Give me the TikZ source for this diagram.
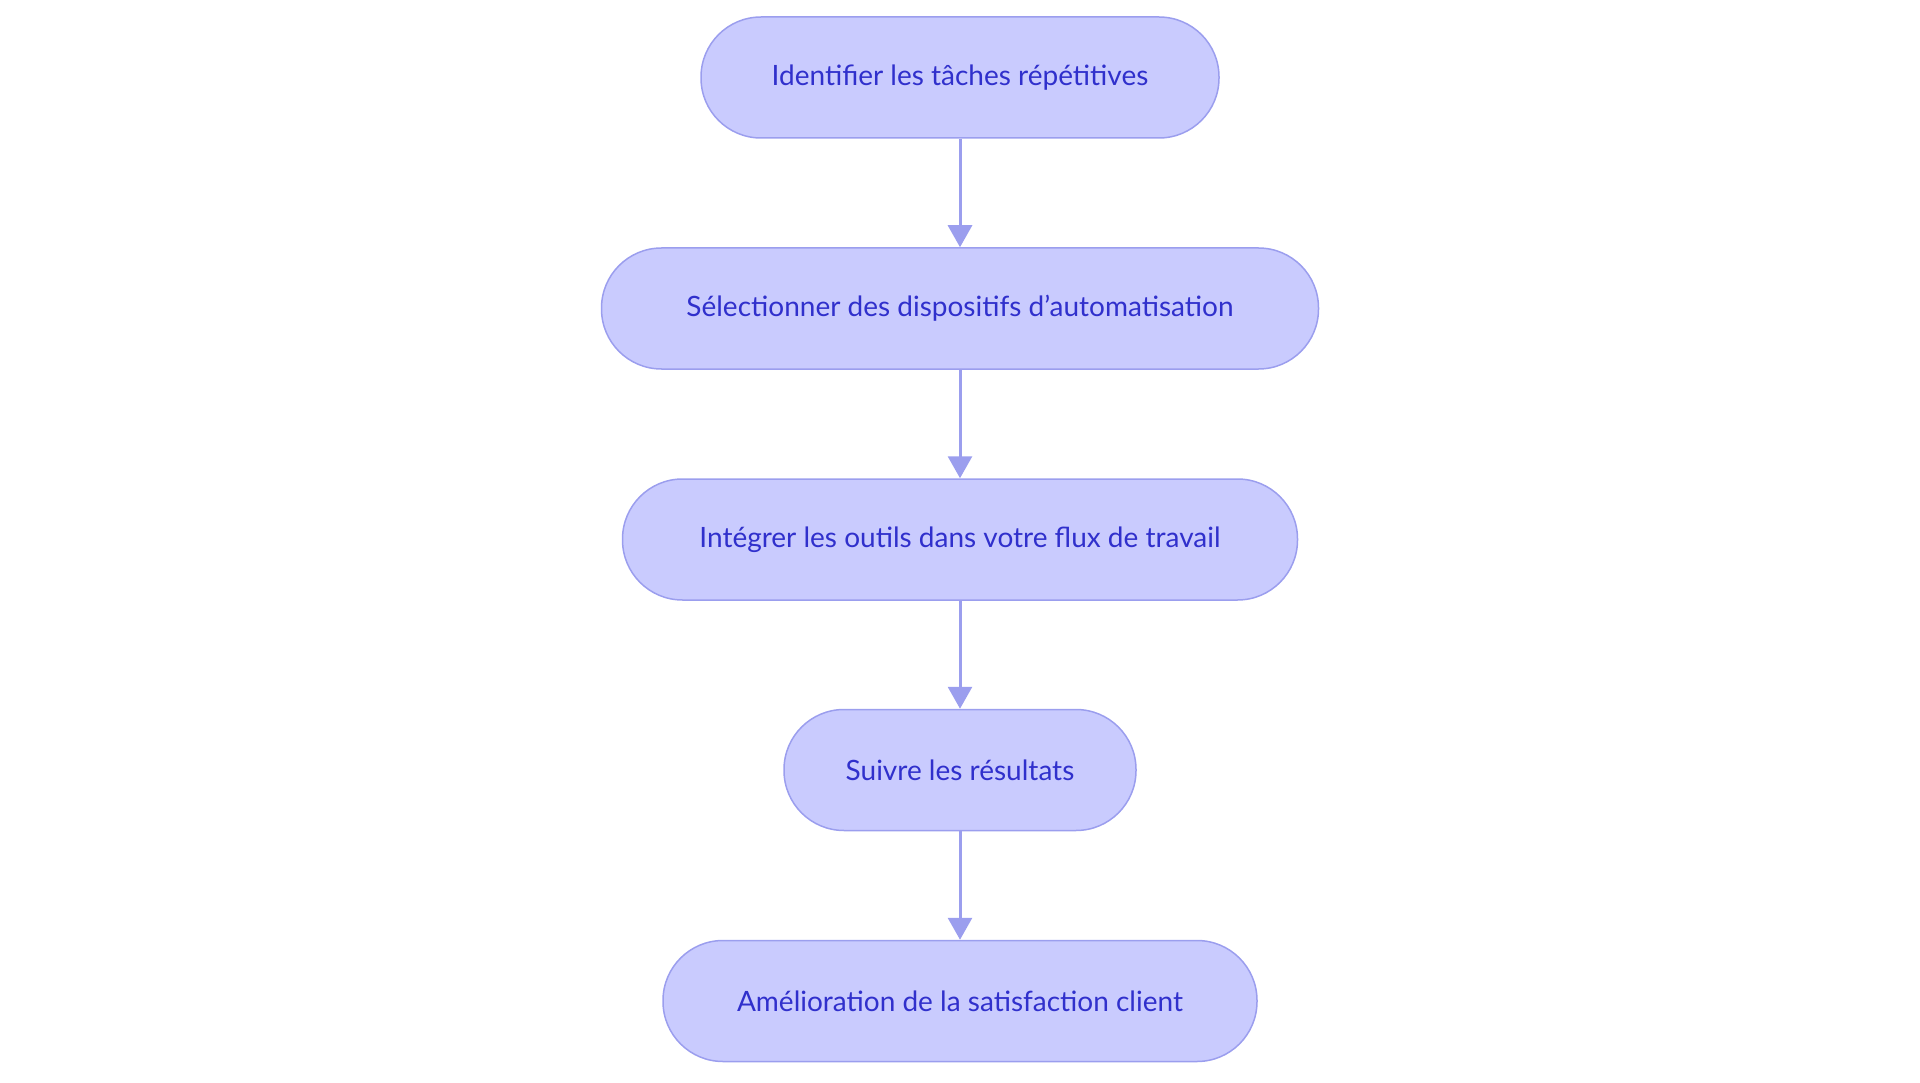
\documentclass[tikz,border=0pt]{standalone}
\usepackage{fontspec}
\setmainfont{Lato}
\usetikzlibrary{arrows.meta}
\definecolor{fillc}{HTML}{C9CBFE}
\definecolor{linec}{HTML}{9B9EEE}
\definecolor{textc}{HTML}{3030CC}
\begin{document}
\begin{tikzpicture}[x=1pt,y=1pt,
  box/.style={draw=linec,line width=1.5pt,fill=fillc,rounded corners=60pt,minimum height=121pt,text=textc,font=\fontsize{28}{32}\selectfont,inner sep=0pt},
  arr/.style={draw=linec,line width=3pt,-{Triangle[length=22pt,width=24pt]}}]
\useasboundingbox (0,0) rectangle (1920,-1083);
\node[box,minimum width=518pt] (a) at (960,-77.5) {Identifier les tâches répétitives};
\node[box,minimum width=717pt] (b) at (960,-308.5) {Sélectionner des dispositifs d'automatisation};
\node[box,minimum width=675pt] (c) at (960,-539.5) {Intégrer les outils dans votre flux de travail};
\node[box,minimum width=352pt] (d) at (960,-770) {Suivre les résultats};
\node[box,minimum width=594pt] (e) at (960,-1001) {Amélioration de la satisfaction client};
\draw[arr] (a) -- (b);
\draw[arr] (b) -- (c);
\draw[arr] (c) -- (d);
\draw[arr] (d) -- (e);
\end{tikzpicture}
\end{document}
